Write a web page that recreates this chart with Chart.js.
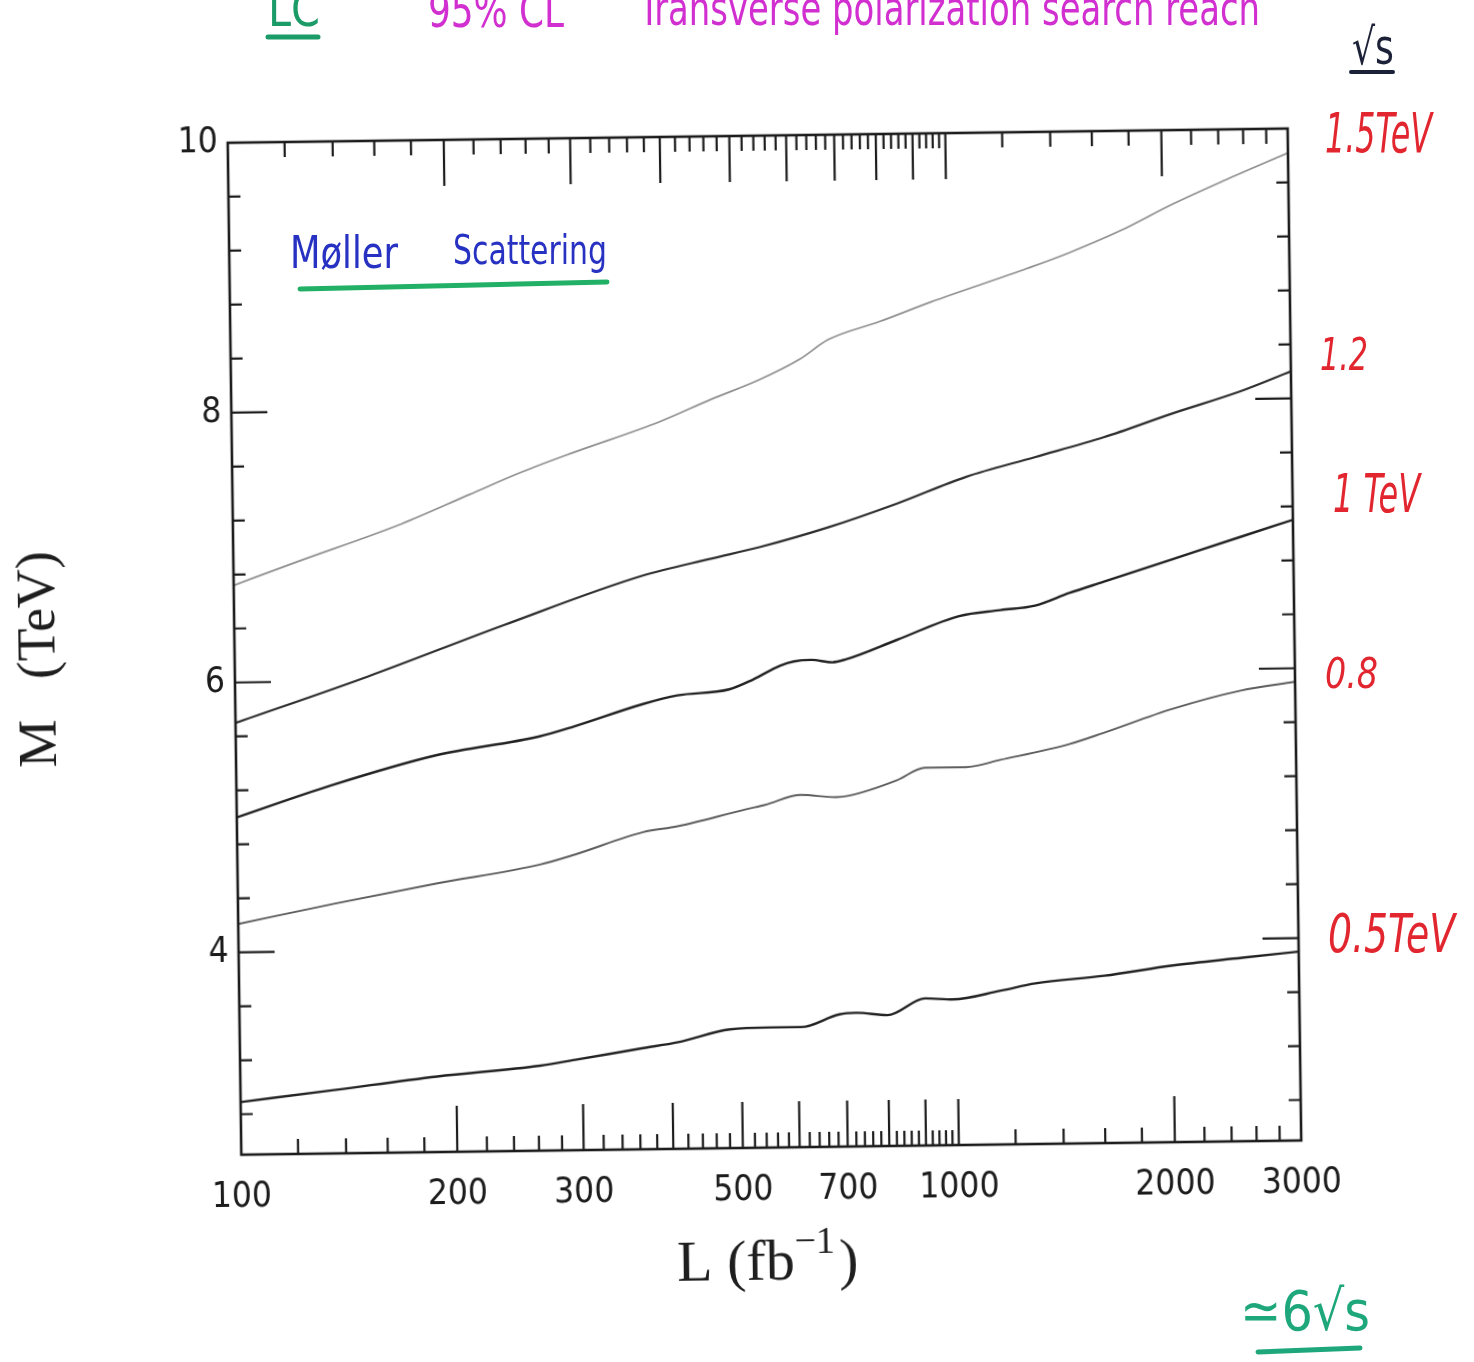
<!DOCTYPE html>
<html>
<head>
<meta charset="utf-8">
<title>Moller scattering reach</title>
<script src="https://cdn.jsdelivr.net/npm/chart.js@4.4.1/dist/chart.umd.min.js"></script>
<style>
  html, body { margin: 0; padding: 0; background: #fff; overflow: hidden; }
  #page { position: relative; width: 1474px; height: 1362px; }
  #plot { position: absolute; left: 0; top: 0; width: 1474px; height: 1362px;
          transform: rotate(-0.77deg); transform-origin: 50% 50%; }
  #notes { position: absolute; left: 0; top: 0; pointer-events: none; }
  #notes text { font-family: 'Liberation Sans Narrow', 'DejaVu Sans Condensed', 'Liberation Sans', sans-serif; }
</style>
</head>
<body>
<div id="page">
  <div id="plot"><canvas id="reachChart" width="1474" height="1362"></canvas></div>

  <!-- pen notes written over the printed plot -->
  <svg id="notes" width="1474" height="1362" xmlns="http://www.w3.org/2000/svg">
    <text x="268" y="26" font-size="50" fill="#1b9b68" textLength="52" lengthAdjust="spacingAndGlyphs">LC</text>
    <line x1="268" y1="37" x2="318" y2="37" stroke="#1b9b68" stroke-width="5" stroke-linecap="round"/>

    <g fill="#d12fd0">
      <text x="428" y="27" font-size="48" textLength="136" lengthAdjust="spacingAndGlyphs">95% CL</text>
      <text x="639" y="25" font-size="48" textLength="621" lengthAdjust="spacingAndGlyphs">Transverse polarization search reach</text>
    </g>

    <text x="1352" y="64" font-size="50" fill="#1c2138" textLength="42" lengthAdjust="spacingAndGlyphs">√s</text>
    <line x1="1351" y1="72" x2="1393" y2="72" stroke="#1c2138" stroke-width="4" stroke-linecap="round"/>

    <g fill="#2731c2">
      <text x="290" y="268" font-size="44" textLength="108" lengthAdjust="spacingAndGlyphs">Møller</text>
      <text x="453" y="264" font-size="40" textLength="154" lengthAdjust="spacingAndGlyphs">Scattering</text>
    </g>
    <path d="M300 289 Q 450 286 607 282" fill="none" stroke="#22b067" stroke-width="5" stroke-linecap="round"/>

    <g fill="#e2262f" font-style="italic">
      <text x="1325" y="152" font-size="56" textLength="107" lengthAdjust="spacingAndGlyphs">1.5TeV</text>
      <text x="1320" y="370" font-size="44" textLength="48" lengthAdjust="spacingAndGlyphs">1.2</text>
      <text x="1333" y="512" font-size="54" textLength="87" lengthAdjust="spacingAndGlyphs">1 TeV</text>
      <text x="1325" y="688" font-size="42" textLength="53" lengthAdjust="spacingAndGlyphs">0.8</text>
      <text x="1328" y="952" font-size="54" textLength="127" lengthAdjust="spacingAndGlyphs">0.5TeV</text>
    </g>

    <text x="1240" y="1330" font-size="56" fill="#1da77a" textLength="130" lengthAdjust="spacingAndGlyphs">≃6√s</text>
    <path d="M1258 1352 L 1360 1348" fill="none" stroke="#1da77a" stroke-width="5" stroke-linecap="round"/>
  </svg>
</div>

<script>
// luminosity L (fb^-1) and reach M (TeV), one pair of arrays per sqrt(s)
const lum15 = [100, 123, 172, 214, 253, 299, 395, 466, 544, 621, 680, 803, 948, 1294, 1478, 1747, 2064, 2438, 3000];
const mass15 = [6.72, 6.89, 7.16, 7.37, 7.53, 7.67, 7.89, 8.05, 8.19, 8.34, 8.48, 8.61, 8.75, 8.99, 9.10, 9.26, 9.45, 9.62, 9.82];

const lum12 = [100, 153, 238, 371, 463, 541, 675, 843, 1052, 1314, 1640, 2047, 2557, 3000];
const mass12 = [5.70, 6.03, 6.40, 6.75, 6.87, 6.95, 7.09, 7.26, 7.45, 7.59, 7.73, 7.90, 8.06, 8.20];

const lum10 = [100, 136, 190, 265, 296, 370, 413, 488, 527, 575, 601, 636, 680, 710, 838, 1024, 1170, 1307, 1460, 1631, 2035, 2538, 3000];
const mass10 = [5.00, 5.23, 5.44, 5.57, 5.64, 5.80, 5.86, 5.90, 5.97, 6.07, 6.10, 6.11, 6.09, 6.11, 6.25, 6.42, 6.46, 6.49, 6.58, 6.66, 6.82, 6.98, 7.10];

const lum08 = [100, 136, 189, 264, 295, 368, 411, 513, 545, 611, 683, 714, 833, 911, 1040, 1161, 1449, 1619, 2018, 2519, 3000];
const mass08 = [4.21, 4.35, 4.49, 4.62, 4.69, 4.85, 4.89, 5.01, 5.04, 5.11, 5.09, 5.10, 5.21, 5.30, 5.30, 5.35, 5.46, 5.54, 5.71, 5.84, 5.90];

const lum05 = [100, 135, 188, 262, 293, 365, 408, 482, 549, 606, 685, 724, 800, 903, 987, 1152, 1287, 1606, 2004, 2500, 3000];
const mass05 = [2.89, 2.97, 3.06, 3.13, 3.17, 3.25, 3.29, 3.38, 3.39, 3.39, 3.48, 3.49, 3.47, 3.59, 3.58, 3.64, 3.69, 3.74, 3.81, 3.86, 3.90];

// axis ticks
const xLabels = [100, 200, 300, 500, 700, 1000, 2000, 3000];
const xMajor = [200, 300, 400, 500, 600, 700, 800, 900, 1000, 2000];
const xMinor = [];
for (let v = 120; v < 1000; v += 20) if (v % 100 !== 0) xMinor.push(v);
for (let v = 1200; v < 3000; v += 200) if (v % 1000 !== 0) xMinor.push(v);
const yLabels = [4, 6, 8, 10];
const yMinor = [2.8, 3.2, 3.6, 4.4, 4.8, 5.2, 5.6, 6.4, 6.8, 7.2, 7.6, 8.4, 8.8, 9.2, 9.6];

const toPoints = (xs, ys) => xs.map((x, i) => ({ x: x, y: ys[i] }));

const INK = '#1c1c1c';
const tickFont = { family: "'Liberation Sans Narrow', 'DejaVu Sans Condensed', 'Liberation Sans', sans-serif", size: 35 };

// box frame with inward ticks on all four sides, plus the axis titles
const frameTicks = {
  id: 'frameTicks',
  afterDraw(chart) {
    const { ctx, chartArea: a, scales: { x, y } } = chart;
    ctx.save();
    ctx.strokeStyle = INK;
    ctx.lineWidth = 2.6;
    ctx.strokeRect(a.left, a.top, a.right - a.left, a.bottom - a.top);

    ctx.lineWidth = 2.2;
    ctx.beginPath();
    const xTick = (v, len) => {
      const px = x.getPixelForValue(v);
      ctx.moveTo(px, a.bottom); ctx.lineTo(px, a.bottom - len);
      ctx.moveTo(px, a.top); ctx.lineTo(px, a.top + len);
    };
    const yTick = (v, len) => {
      const py = y.getPixelForValue(v);
      ctx.moveTo(a.left, py); ctx.lineTo(a.left + len, py);
      ctx.moveTo(a.right, py); ctx.lineTo(a.right - len, py);
    };
    xMajor.forEach(v => xTick(v, 46));
    xMinor.forEach(v => xTick(v, 15));
    yLabels.forEach(v => yTick(v, 36));
    yMinor.forEach(v => yTick(v, 12));
    ctx.stroke();

    // axis titles
    ctx.fillStyle = '#1e1e1e';
    ctx.textBaseline = 'alphabetic';
    const big = "58px 'Liberation Serif', 'DejaVu Serif', serif";
    const sup = "38px 'Liberation Serif', 'DejaVu Serif', serif";
    ctx.font = big;
    const w1 = ctx.measureText('L (fb').width;
    const w3 = ctx.measureText(')').width;
    ctx.font = sup;
    const w2 = ctx.measureText('\u22121').width;
    let tx = 760 - (w1 + w2 + w3 + 4) / 2;
    const base = 1280;
    ctx.font = big;
    ctx.fillText('L (fb', tx, base);
    tx += w1;
    ctx.font = sup;
    ctx.fillText('\u22121', tx, base - 26);
    tx += w2 + 4;
    ctx.font = big;
    ctx.fillText(')', tx, base);

    ctx.translate(55, 650);
    ctx.rotate(-Math.PI / 2);
    ctx.font = "54px 'Liberation Serif', 'DejaVu Serif', serif";
    ctx.textAlign = 'center';
    ctx.fillText('M\u2002 (TeV)', 0, 0);
    ctx.restore();
  }
};

const curve = (xs, ys, color, width) => ({
  data: toPoints(xs, ys),
  showLine: true,
  borderColor: color,
  borderWidth: width,
  pointRadius: 0,
  cubicInterpolationMode: 'monotone'
});

new Chart(document.getElementById('reachChart'), {
  type: 'scatter',
  data: {
    datasets: [
      curve(lum15, mass15, '#8f8f8f', 1.7),
      curve(lum12, mass12, '#2e2e2e', 2.2),
      curve(lum10, mass10, '#222222', 2.4),
      curve(lum08, mass08, '#5c5c5c', 1.9),
      curve(lum05, mass05, '#222222', 2.4)
    ]
  },
  options: {
    responsive: false,
    animation: false,
    devicePixelRatio: 1,
    layout: { padding: { top: 136, right: 179, left: 0, bottom: 0 } },
    plugins: { legend: { display: false }, tooltip: { enabled: false } },
    scales: {
      x: {
        type: 'logarithmic',
        min: 100,
        max: 3000,
        grid: { display: false, drawTicks: false },
        border: { display: false },
        afterBuildTicks: s => { s.ticks = xLabels.map(v => ({ value: v })); },
        afterFit: s => { s.height = 214; },
        ticks: {
          autoSkip: false,
          maxRotation: 0,
          padding: 22,
          color: INK,
          font: tickFont,
          callback: v => String(v)
        }
      },
      y: {
        type: 'linear',
        min: 2.5,
        max: 10,
        grid: { display: false, drawTicks: false },
        border: { display: false },
        afterBuildTicks: s => { s.ticks = yLabels.map(v => ({ value: v })); },
        afterFit: s => { s.width = 235; },
        ticks: {
          padding: 10,
          color: INK,
          font: tickFont,
          callback: v => String(v)
        }
      }
    }
  },
  plugins: [frameTicks]
});
</script>
</body>
</html>
